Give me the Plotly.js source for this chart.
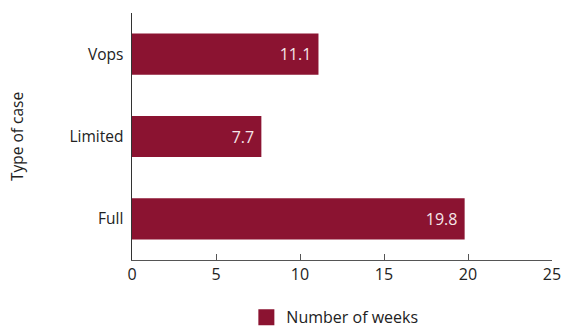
<!DOCTYPE html>
<html><head><meta charset="utf-8">
<script src="https://cdn.plot.ly/plotly-3.0.1.min.js"></script>
<style>html,body{margin:0;padding:0;background:#fff}</style>
</head><body>
<div id="chart" style="width:563px;height:327px"></div>
<script>
const categories = ["Full", "Limited", "Vops"];
const weeks = [19.8, 7.7, 11.1];
const seriesName = "Number of weeks";
const xTicks = [0, 5, 10, 15, 20, 25];

const barColor = "#8B1331";
const font = "Open Sans, Noto Sans, sans-serif";

const traces = [
  {
    type: "bar", orientation: "h",
    y: categories, x: weeks,
    width: 0.5,
    marker: {color: barColor},
    text: weeks.map(v => v.toFixed(1) + "\u00a0"),
    textposition: "inside", insidetextanchor: "end",
    textfont: {color: "#f5e6e9", size: 16, family: font},
    showlegend: false, hoverinfo: "skip"
  },
  {
    type: "scatter", mode: "markers",
    x: [null], y: [null], name: seriesName,
    marker: {symbol: "square", size: 19, color: barColor},
    showlegend: true
  }
];

const layout = {
  width: 563, height: 327,
  margin: {l: 132, r: 11, t: 13, b: 67, autoexpand: false},
  paper_bgcolor: "#fff", plot_bgcolor: "#fff",
  font: {family: font, size: 16, color: "#222"},
  showlegend: true,
  legend: {orientation: "h", x: 0.483, xanchor: "center", y: -0.163, yanchor: "top",
           font: {size: 16, color: "#222"}, itemwidth: 30},
  xaxis: {
    range: [0, 25], tickvals: xTicks, ticktext: xTicks.map(String),
    showgrid: false, zeroline: false,
    showline: true, linecolor: "#555", linewidth: 1,
    ticks: "inside", ticklen: 6, tickcolor: "#555",
    tickfont: {size: 16, color: "#222"}, fixedrange: true
  },
  yaxis: {
    type: "category", categoryorder: "array", categoryarray: categories,
    range: [-0.5, 2.5],
    showgrid: false, zeroline: false,
    showline: true, linecolor: "#333", linewidth: 1.5,
    ticks: "", ticklabelstandoff: 4,
    tickfont: {size: 15.5, color: "#222"},
    title: {text: "Type of case", font: {size: 15.5, color: "#222"}, standoff: 42},
    fixedrange: true
  }
};

Plotly.newPlot("chart", traces, layout, {displayModeBar: false, staticPlot: true});
</script>
</body></html>
